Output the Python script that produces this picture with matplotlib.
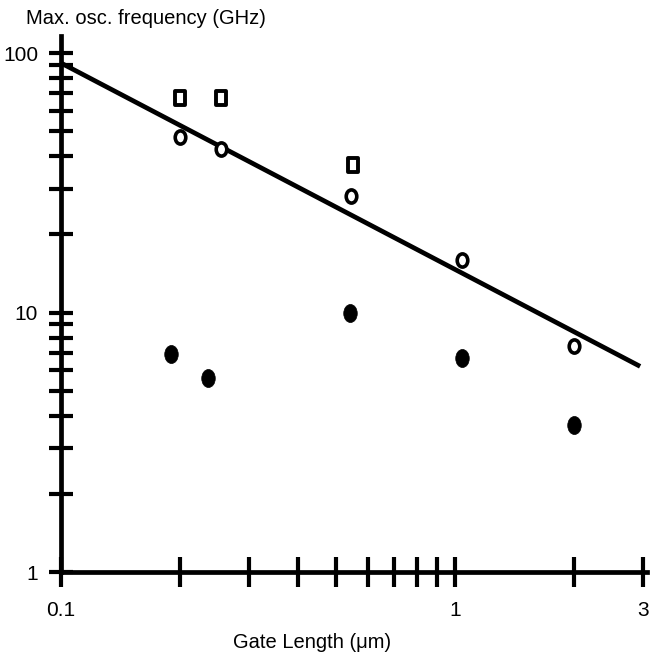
import matplotlib
matplotlib.use("Agg")
import matplotlib.pyplot as plt
from matplotlib.path import Path
from matplotlib.transforms import Affine2D
from matplotlib.ticker import FixedLocator, NullFormatter, FixedFormatter
import numpy as np

plt.rcParams['font.family'] = ['Liberation Sans', 'DejaVu Sans']

# Data
square_x = [0.20, 0.255, 0.55]
square_y = [67, 67, 37]
open_x = [0.20, 0.255, 0.545, 1.04, 2.0]
open_y = [47.5, 42.5, 28.0, 16.0, 7.4]
filled_x = [0.19, 0.236, 0.54, 1.04, 2.0]
filled_y = [6.9, 5.6, 10.0, 6.7, 3.7]
fit_x = [0.1, 2.95]
fit_y = [91.5, 6.2]

x_major = [0.1, 1, 3]
x_major_labels = ["0.1", "1", "3"]
x_minor = [0.2, 0.3, 0.4, 0.5, 0.6, 0.7, 0.8, 0.9, 2]
y_major = [1, 10, 100]
y_major_labels = ["1", "10", "100"]
y_minor = [2, 3, 4, 5, 6, 7, 8, 9, 20, 30, 40, 50, 60, 70, 80, 90]

fig = plt.figure(figsize=(6.52, 6.60), dpi=100)
ax = fig.add_axes([61/652, 1 - 572/660, (647 - 61)/652, (572 - 36)/660])
ax.set_xscale('log')
ax.set_yscale('log')
ax.set_xlim(0.1, 10**(np.log10(0.1) + (647 - 61)/394))
ax.set_ylim(1, 10**((572 - 36)/259.5))

ellipse = Path.unit_circle().transformed(Affine2D().scale(0.8, 1.0))
ellipse_f = Path.unit_circle().transformed(Affine2D().scale(0.75, 1.0))
rect = Path([(-0.4, -0.5), (0.4, -0.5), (0.4, 0.5), (-0.4, 0.5), (-0.4, -0.5)],
            [Path.MOVETO, Path.LINETO, Path.LINETO, Path.LINETO, Path.CLOSEPOLY])

ax.plot(fit_x, fit_y, color='black', lw=3.4, solid_capstyle='butt', zorder=2)
ax.plot(square_x, square_y, ls='none', marker=rect, ms=9.5, mfc='white', mec='black', mew=2.8, zorder=3)
ax.plot(open_x, open_y, ls='none', marker=ellipse, ms=9.5, mfc='white', mec='black', mew=2.6, zorder=3)
ax.plot(filled_x, filled_y, ls='none', marker=ellipse_f, ms=13, mfc='black', mec='black', mew=0.5, zorder=3)

for s in ['top', 'right']:
    ax.spines[s].set_visible(False)
for s in ['left', 'bottom']:
    ax.spines[s].set_linewidth(3.4)

ax.xaxis.set_major_locator(FixedLocator(x_major))
ax.xaxis.set_major_formatter(FixedFormatter(x_major_labels))
ax.xaxis.set_minor_locator(FixedLocator(x_minor))
ax.xaxis.set_minor_formatter(NullFormatter())
ax.yaxis.set_major_locator(FixedLocator(y_major))
ax.yaxis.set_major_formatter(FixedFormatter(y_major_labels))
ax.yaxis.set_minor_locator(FixedLocator(y_minor))
ax.yaxis.set_minor_formatter(NullFormatter())

ax.tick_params(axis='x', which='both', direction='inout', length=22, width=3.0, pad=10, labelsize=15)
ax.tick_params(axis='y', which='both', direction='inout', length=17, width=3.0, pad=8, labelsize=15)

fig.text(26/652, 1 - 18/660, "Max. osc. frequency (GHz)", ha='left', va='center', fontsize=14.5)
fig.text(312/652, 1 - 642/660, "Gate Length (μm)", ha='center', va='center', fontsize=14.5)

fig.savefig("out.png", dpi=100)
